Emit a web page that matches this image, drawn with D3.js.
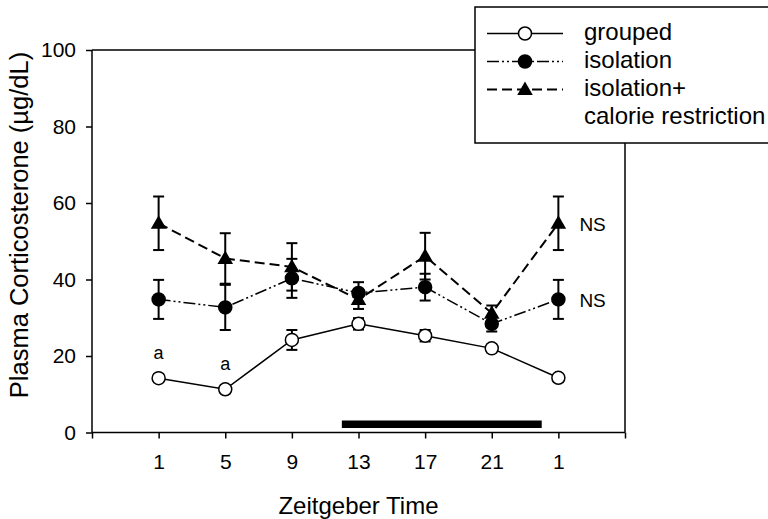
<!DOCTYPE html>
<html>
<head>
<meta charset="utf-8">
<script src="https://cdn.jsdelivr.net/npm/d3@7"></script>
<style>
    body { margin: 0; background: #fff; }
    svg { display: block; font-family: Arial, "Liberation Sans", sans-serif; }
</style>
</head>
<body>
<div id="chart"></div>
<script>
// Plasma corticosterone over the day, three housing groups

// Zeitgeber time of each sample (25 = ZT1 of the next day)
const ztTimes = [1, 5, 9, 13, 17, 21, 25];
const tickLabels = ['1', '5', '9', '13', '17', '21', '1'];

// Series means and SEM (ug/dL)
const groupedMean = [14.2, 11.3, 24.2, 28.4, 25.3, 22.0, 14.3];
const groupedErr = [1.0, 1.0, 2.6, 1.5, 1.5, 1.0, 1.0];
const isolationMean = [34.8, 32.7, 40.3, 36.5, 38.0, 28.4, 34.8];
const isolationErr = [5.1, 5.9, 5.1, 2.8, 3.5, 2.0, 5.1];
const restrictMean = [54.7, 45.5, 43.3, 34.8, 46.1, 31.2, 54.7];
const restrictErr = [7.0, 6.6, 6.2, 2.5, 6.1, 2.0, 7.0];

// Dark phase (ZT12 to ZT24)
const darkPhase = [12, 24];

// Annotations
const letterMarks = [{ zt: 1, value: 14.2, text: 'a' }, { zt: 5, value: 11.3, text: 'a' }];
const nsMarks = [{ zt: 25, value: 54.7, text: 'NS' }, { zt: 25, value: 34.8, text: 'NS' }];

const yTicks = [0, 20, 40, 60, 80, 100];

const series = [
    { name: 'grouped', mean: groupedMean, err: groupedErr, dash: null, width: 1.5, marker: 'open' },
    { name: 'isolation', mean: isolationMean, err: isolationErr, dash: '12,3,2,3,2,3', width: 1.5, marker: 'circle' },
    { name: 'isolation+', mean: restrictMean, err: restrictErr, dash: '10,5', width: 2, marker: 'triangle' }
];

const width = 768, height = 519;
const plotLeft = 92, plotRight = 625, plotTop = 50, plotBottom = 432.5;

const svg = d3.select('#chart').append('svg')
    .attr('width', width)
    .attr('height', height);

const x = d3.scaleLinear().domain([-3, 29]).range([plotLeft, plotRight]);
const y = d3.scaleLinear().domain([0, 100]).range([plotBottom, plotTop]);

// Frame (top and right)
svg.append('path')
    .attr('d', `M${plotLeft},${plotTop}H${plotRight}V${plotBottom}`)
    .attr('fill', 'none')
    .attr('stroke', '#000')
    .attr('stroke-width', 1.5);

// Y axis
const yAxis = svg.append('g')
    .attr('transform', `translate(${plotLeft},0)`)
    .call(d3.axisLeft(y).tickValues(yTicks).tickSize(6).tickPadding(10));

// X axis: labelled ticks plus bare ticks at both ends
const xAxis = svg.append('g')
    .attr('transform', `translate(0,${plotBottom})`)
    .call(d3.axisBottom(x)
        .tickValues([-3].concat(ztTimes, [29]))
        .tickFormat(d => {
            const i = ztTimes.indexOf(d);
            return i < 0 ? '' : tickLabels[i];
        })
        .tickSize(6).tickPadding(16));

[yAxis, xAxis].forEach(g => {
    g.select('.domain').attr('stroke-width', 1.5);
    g.selectAll('.tick line').attr('stroke-width', 1.5);
    g.selectAll('.tick text').attr('font-size', 21).attr('fill', '#000')
        .attr('font-family', 'Arial, "Liberation Sans", sans-serif');
});
yAxis.select('.domain').attr('d', `M0,${plotBottom}V${plotTop}`);
xAxis.select('.domain').attr('d', `M${plotLeft},0H${plotRight}`);

// Axis titles
svg.append('text')
    .attr('transform', 'translate(28,225) rotate(-90)')
    .attr('text-anchor', 'middle')
    .attr('font-size', 25.5)
    .text('Plasma Corticosterone (\u00b5g/dL)');

svg.append('text')
    .attr('x', (plotLeft + plotRight) / 2)
    .attr('y', 514)
    .attr('text-anchor', 'middle')
    .attr('font-size', 24)
    .text('Zeitgeber Time');

// Dark phase bar
svg.append('rect')
    .attr('x', x(darkPhase[0]))
    .attr('y', plotBottom - 12)
    .attr('width', x(darkPhase[1]) - x(darkPhase[0]))
    .attr('height', 7.5)
    .attr('fill', '#000');

// Lines
series.forEach(s => {
    const line = d3.line()
        .x((d, i) => x(ztTimes[i]))
        .y(d => y(d));
    svg.append('path')
        .datum(s.mean)
        .attr('d', line)
        .attr('fill', 'none')
        .attr('stroke', '#000')
        .attr('stroke-width', s.width)
        .attr('stroke-dasharray', s.dash);
});

// Error bars
series.slice().reverse().forEach(s => {
    const g = svg.append('g').attr('stroke', '#000').attr('stroke-width', 2);
    s.mean.forEach((m, i) => {
        const cx = x(ztTimes[i]);
        const y0 = y(m - s.err[i]), y1 = y(m + s.err[i]);
        g.append('line').attr('x1', cx).attr('x2', cx).attr('y1', y0).attr('y2', y1);
        g.append('line').attr('x1', cx - 5.5).attr('x2', cx + 5.5).attr('y1', y0).attr('y2', y0);
        g.append('line').attr('x1', cx - 5.5).attr('x2', cx + 5.5).attr('y1', y1).attr('y2', y1);
    });
});

// Marker drawing
function drawMarker(g, type, cx, cy) {
    if (type === 'triangle') {
        g.append('path')
            .attr('d', d3.symbol(d3.symbolTriangle, 105)())
            .attr('transform', `translate(${cx},${cy + 1})`)
            .attr('fill', '#000');
    } else {
        g.append('circle')
            .attr('cx', cx).attr('cy', cy).attr('r', 6.5)
            .attr('fill', type === 'open' ? '#fff' : '#000')
            .attr('stroke', '#000')
            .attr('stroke-width', 1.5);
    }
}

series.slice().reverse().forEach(s => {
    const g = svg.append('g');
    s.mean.forEach((m, i) => drawMarker(g, s.marker, x(ztTimes[i]), y(m)));
});

// Significance letters
svg.selectAll('text.sig')
    .data(letterMarks)
    .enter().append('text')
    .attr('class', 'sig')
    .attr('x', d => x(d.zt))
    .attr('y', d => y(d.value) - 19)
    .attr('text-anchor', 'middle')
    .attr('font-size', 18)
    .text(d => d.text);

svg.selectAll('text.ns')
    .data(nsMarks)
    .enter().append('text')
    .attr('class', 'ns')
    .attr('x', d => x(d.zt) + 21)
    .attr('y', d => y(d.value) + 7.5)
    .attr('font-size', 19)
    .text(d => d.text);

// Legend
const legend = svg.append('g');
legend.append('rect')
    .attr('x', 475).attr('y', 7)
    .attr('width', 300).attr('height', 136)
    .attr('fill', '#fff')
    .attr('stroke', '#000')
    .attr('stroke-width', 1.5);

const legendLabels = [['grouped'], ['isolation'], ['isolation+', 'calorie restriction']];
series.forEach((s, i) => {
    const ly = 33.5 + i * 28;
    legend.append('line')
        .attr('x1', 487).attr('x2', 563)
        .attr('y1', ly).attr('y2', ly)
        .attr('stroke', '#000')
        .attr('stroke-width', s.width)
        .attr('stroke-dasharray', s.dash);
    drawMarker(legend, s.marker, 525, ly);
    legendLabels[i].forEach((t, j) => {
        legend.append('text')
            .attr('x', 584)
            .attr('y', ly + 6 + j * 28)
            .attr('font-size', 24)
            .text(t);
    });
});
</script>
</body>
</html>
